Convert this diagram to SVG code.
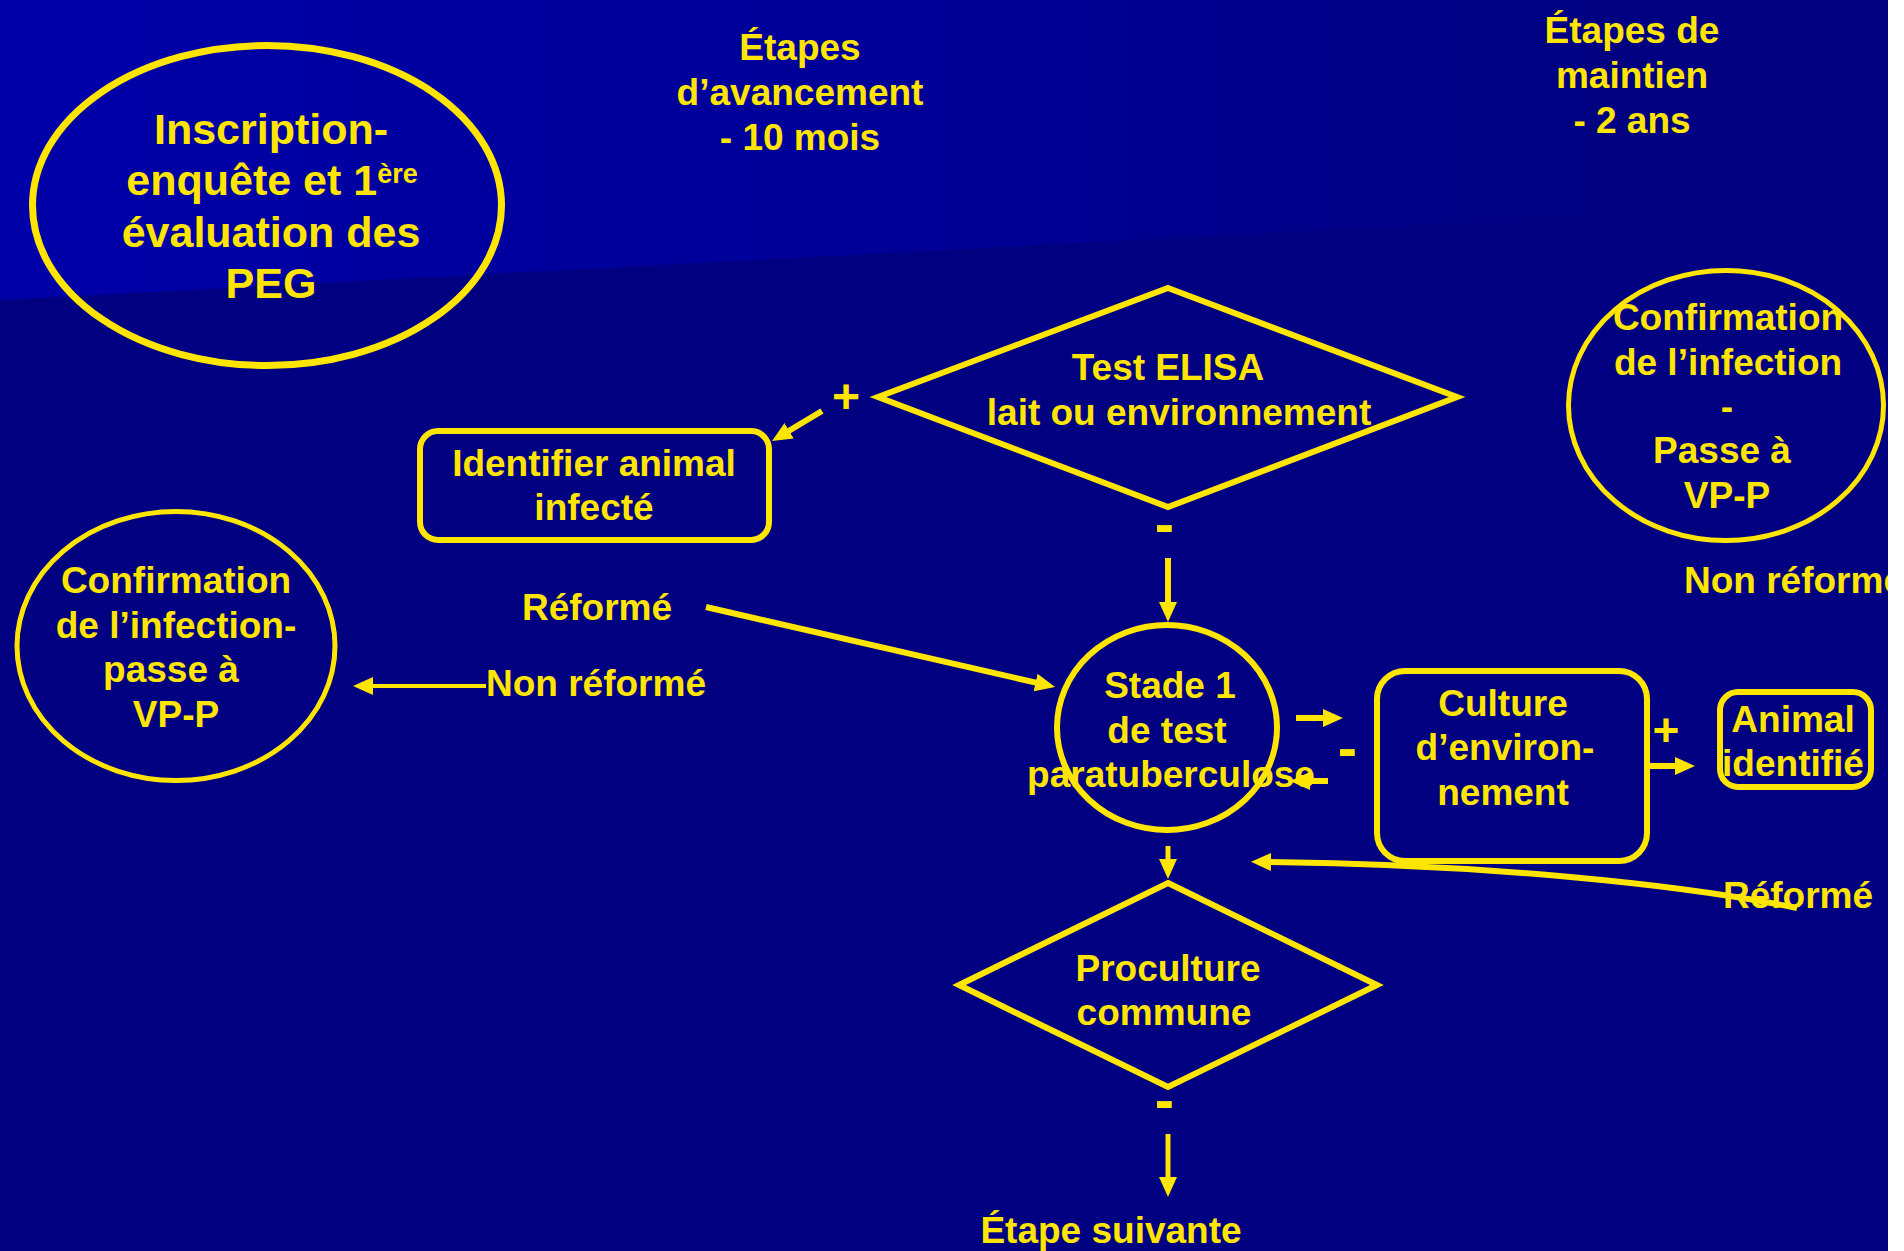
<svg xmlns="http://www.w3.org/2000/svg" width="1904" height="1251" viewBox="0 0 1904 1251">
<defs>
<linearGradient id="topGrad" x1="0" y1="0" x2="1888" y2="0" gradientUnits="userSpaceOnUse">
<stop offset="0" stop-color="#0000A8"/>
<stop offset="0.5" stop-color="#000096"/>
<stop offset="0.85" stop-color="#000081"/>
<stop offset="1" stop-color="#000080"/>
</linearGradient>
<marker id="arr" markerUnits="userSpaceOnUse" viewBox="0 0 20 18" refX="6" refY="9" markerWidth="20" markerHeight="18" orient="auto">
<path d="M0,0 L20,9 L0,18 z" fill="#FFE500"/>
</marker>
<clipPath id="slide"><rect x="0" y="0" width="1888" height="1251"/></clipPath>
</defs>
<style>
.t{font-family:"Liberation Sans",Arial,Helvetica,sans-serif;font-weight:bold;fill:#FFE500;font-size:37px;text-anchor:middle}
.s{fill:none;stroke:#FFE500;stroke-width:6}
.c{fill:none;stroke:#FFE500;stroke-width:6;marker-end:url(#arr)}
.st{text-anchor:start}
</style>
<rect x="0" y="0" width="1904" height="1251" fill="#FFFFFF"/>
<rect x="0" y="0" width="1888" height="1251" fill="#000080"/>
<polygon points="0,0 1888,0 1888,200 0,300" fill="url(#topGrad)"/>

<g id="connectors">
<line class="c" x1="822" y1="411" x2="784" y2="433.8"/>
<line class="c" x1="1168" y1="558" x2="1168" y2="608"/>
<line class="c" x1="706" y1="607" x2="1041.4" y2="683.9"/>
<line class="c" x1="486" y1="686" x2="367" y2="686" style="stroke-width:4"/>
<line class="c" x1="1296" y1="718" x2="1329" y2="718"/>
<line class="c" x1="1328" y1="781" x2="1304" y2="781"/>
<line class="c" x1="1650" y1="766" x2="1681" y2="766"/>
<path class="c" d="M1797,908 C1680,884 1480,864 1265,862"/>
<line class="c" x1="1168" y1="846" x2="1168" y2="865" style="stroke-width:5"/>
<line class="c" x1="1168" y1="1134" x2="1168" y2="1183" style="stroke-width:5"/>
</g>

<g id="inscription">
<ellipse class="s" cx="267" cy="205.5" rx="234.5" ry="160" style="stroke-width:7"/>
<text class="t" style="font-size:43px" x="271" y="144">Inscription-</text>
<text class="t" style="font-size:43px" x="272" y="195">enquête et 1<tspan style="font-size:27px" dy="-12">ère</tspan></text>
<text class="t" style="font-size:43px" x="271" y="247">évaluation des</text>
<text class="t" style="font-size:43px" x="271" y="298">PEG</text>
</g>

<g id="etapes-avancement">
<text class="t" x="800" y="60">Étapes</text>
<text class="t" x="800" y="105">d’avancement</text>
<text class="t" x="800" y="150">- 10 mois</text>
</g>

<g id="etapes-maintien">
<text class="t" x="1632" y="43">Étapes de</text>
<text class="t" x="1632" y="88">maintien</text>
<text class="t" x="1632" y="133">- 2 ans</text>
</g>

<g id="test-elisa">
<polygon class="s" points="1168,288 1457,397 1168,507 878,397"/>
<text class="t" x="1168" y="380">Test ELISA</text>
<text class="t" x="1179" y="425">lait ou environnement</text>
</g>

<g id="label-plus-1"><text class="t" style="font-size:48px" x="846" y="413">+</text></g>
<g id="label-minus-1"><text class="t" style="font-size:58px" x="1164.5" y="544">-</text></g>

<g id="identifier">
<rect class="s" x="420" y="431" width="349" height="109" rx="18"/>
<text class="t" x="594" y="476">Identifier animal</text>
<text class="t" x="594" y="520">infecté</text>
</g>

<g id="confirmation-gauche">
<ellipse class="s" cx="176" cy="646" rx="159" ry="134.5" style="stroke-width:5"/>
<text class="t" x="176" y="593">Confirmation</text>
<text class="t" x="176" y="638">de l’infection-</text>
<text class="t" x="171" y="682">passe à</text>
<text class="t" x="176" y="727">VP-P</text>
</g>

<g id="label-reforme-gauche"><text class="t st" x="522" y="620">Réformé</text></g>
<g id="label-non-reforme-gauche"><text class="t st" x="486" y="696">Non réformé</text></g>

<g id="stade1">
<ellipse class="s" cx="1167" cy="727.5" rx="110" ry="102.5"/>
<text class="t" x="1170" y="698">Stade 1</text>
<text class="t" x="1167" y="743">de test</text>
<text class="t" x="1171" y="787">paratuberculose</text>
</g>

<g id="label-minus-2"><text class="t" style="font-size:58px" x="1347.5" y="768">-</text></g>

<g id="culture">
<rect class="s" x="1377" y="671" width="270" height="190" rx="28"/>
<text class="t" x="1503" y="716">Culture</text>
<text class="t" x="1505" y="760">d’environ-</text>
<text class="t" x="1503" y="805">nement</text>
</g>

<g id="label-plus-2"><text class="t" style="font-size:46px" x="1666" y="746">+</text></g>

<g id="animal-identifie">
<rect class="s" x="1720" y="692" width="151" height="95" rx="18"/>
<text class="t" x="1793" y="732">Animal</text>
<text class="t" x="1793" y="776">identifié</text>
</g>

<g id="confirmation-droite">
<ellipse class="s" cx="1726" cy="405.5" rx="157.5" ry="135" style="stroke-width:5"/>
<text class="t" x="1728" y="330">Confirmation</text>
<text class="t" x="1728" y="375">de l’infection</text>
<text class="t" x="1727" y="419">-</text>
<text class="t" x="1722" y="463">Passe à</text>
<text class="t" x="1727" y="508">VP-P</text>
</g>

<g id="label-non-reforme-droite" clip-path="url(#slide)"><text class="t st" x="1684" y="593">Non réformé</text></g>
<g id="label-reforme-droite"><text class="t st" x="1723" y="908">Réformé</text></g>

<g id="proculture">
<polygon class="s" points="1168,883 1377,985 1168,1087 959,985"/>
<text class="t" x="1168" y="981">Proculture</text>
<text class="t" x="1164" y="1025">commune</text>
</g>

<g id="label-minus-3"><text class="t" style="font-size:58px" x="1164.5" y="1120">-</text></g>

<g id="etape-suivante"><text class="t" x="1111" y="1243">Étape suivante</text></g>
</svg>
